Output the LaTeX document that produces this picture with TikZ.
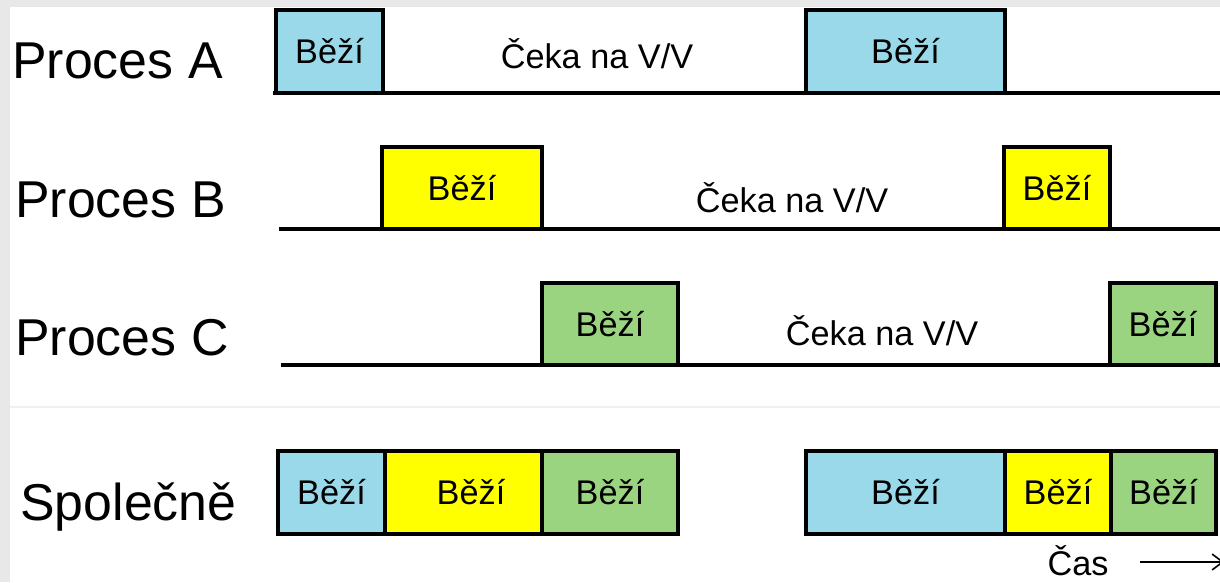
\documentclass[tikz,border=0pt]{standalone}
\usepackage{fontspec}
\setmainfont{Liberation Sans}
\usetikzlibrary{arrows.meta}
\definecolor{behblue}{RGB}{153,217,234}
\definecolor{behyellow}{RGB}{255,255,0}
\definecolor{behgreen}{RGB}{155,212,128}
\newcommand{\popisfont}{\fontsize{29.5}{35}\selectfont}
\newcommand{\behfont}{\fontsize{19.5}{23}\selectfont}
\tikzset{
	beh/.style={draw=black, line width=2.2pt, inner sep=0pt, text height=14pt, text depth=0pt,
		minimum height=1.65cm, font=\behfont},
	cekani/.style={anchor=base, font=\behfont},
	proces/.style={anchor=base west, inner sep=0pt, font=\popisfont}
}
\begin{document}
\begin{tikzpicture}[x=0.02cm, y=-0.02cm]
	\useasboundingbox (0,0) rectangle (1220,582);
	\fill[gray!18] (0,0) rectangle (1220,582);
	\fill[white] (10,7) rectangle (1220,582);
	\draw[gray!12, line width=0.6pt] (10,407) -- (1220,407);
	% time lines
	\coordinate (la0) at (273,93);  \coordinate (la1) at (1222,93);
	\coordinate (lb0) at (279,229); \coordinate (lb1) at (1222,229);
	\coordinate (lc0) at (281,365); \coordinate (lc1) at (1222,365);
	\begin{scope}[every edge/.style={draw=black, line width=2.2pt}]
		\path (la0) edge (la1);
		\path (lb0) edge (lb1);
		\path (lc0) edge (lc1);
	\end{scope}
	% labels
	\node[proces] (pa) at (12,78)  {Proces A};
	\node[proces] (pb) at (15,217) {Proces B};
	\node[proces] (pc) at (15,355) {Proces C};
	\node[proces] (ps) at (20,520) {Společně};
	\node[cekani] (wa) at (597,68)  {Čeka na V/V};
	\node[cekani] (wb) at (792,212) {Čeka na V/V};
	\node[cekani] (wc) at (882,345) {Čeka na V/V};
	% running phases
	\node[beh, fill=behblue, minimum width=2.14cm]   (a1) at (329.5,51.5) {Běží};
	\node[beh, fill=behblue, minimum width=3.98cm]   (a2) at (905.5,51.5) {Běží};
	\node[beh, fill=behyellow, minimum width=3.2cm]  (b1) at (462,188)    {Běží};
	\node[beh, fill=behyellow, minimum width=2.12cm] (b2) at (1057,188)   {Běží};
	\node[beh, fill=behgreen, minimum width=2.72cm]  (c1) at (610,324)    {Běží};
	\node[beh, fill=behgreen, minimum width=2.12cm]  (c2) at (1163,324)   {Běží};
	% all together
	\node[beh, fill=behblue, minimum width=2.14cm]   (s1) at (331.5,492.5) {Běží};
	\node[beh, fill=behyellow, minimum width=3.14cm] (s2) at (463.5,492.5) {\hspace{0.3cm}Běží};
	\node[beh, fill=behgreen, minimum width=2.72cm]  (s3) at (610,492.5)   {Běží};
	\node[beh, fill=behblue, minimum width=3.98cm]   (s4) at (905.5,492.5) {Běží};
	\node[beh, fill=behyellow, minimum width=2.12cm] (s5) at (1058,492.5)  {Běží};
	\node[beh, fill=behgreen, minimum width=2.1cm]   (s6) at (1163.5,492.5) {Běží};
	% time
	\node[cekani] (cas) at (1078,575) {Čas};
	\coordinate (t1) at (1224,562);
	\draw[-{Straight Barb[length=6pt, width=9pt]}, line width=0.9pt]
		(cas.east |- 0,562) ++(25,0) coordinate (t0) -- (t1);
\end{tikzpicture}
\end{document}
